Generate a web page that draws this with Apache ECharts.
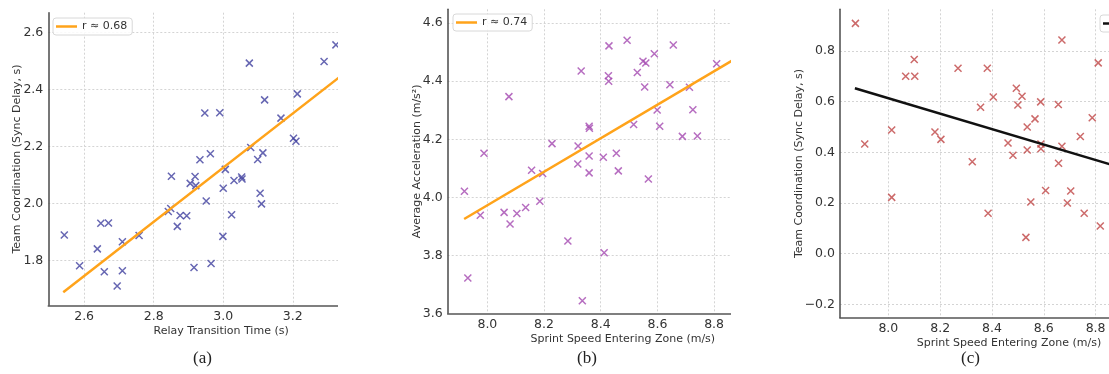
<!DOCTYPE html>
<html>
<head>
<meta charset="utf-8">
<script src="https://cdn.jsdelivr.net/npm/echarts@6/dist/echarts.min.js"></script>
<style>
body{margin:0;background:#fff;}
.panel{position:absolute;top:0;height:374px;overflow:hidden;}
</style>
</head>
<body>
<div id="pa" class="panel" style="left:0;width:338px"></div>
<div id="pb" class="panel" style="left:370px;width:361px"></div>
<div id="pc" class="panel" style="left:740px;width:369px"></div>
<script>
// (a) relay transition time vs sync delay
var aX = [2.543,2.587,2.638,2.648,2.670,2.658,2.695,2.710,2.710,2.758,2.842,2.849,2.851,2.868,2.876,2.895,2.905,2.919,2.921,2.916,2.933,2.947,2.951,2.963,2.965,2.990,3.000,2.999,3.006,3.024,3.031,3.053,3.054,3.075,3.079,3.099,3.106,3.110,3.114,3.119,3.166,3.202,3.209,3.213,3.290,3.324];
var aY = [1.889,1.781,1.840,1.930,1.931,1.760,1.710,1.865,1.763,1.887,1.971,1.982,2.095,1.919,1.957,1.956,2.070,2.094,2.062,1.775,2.153,2.317,2.008,2.174,1.789,2.318,2.053,1.884,2.119,1.960,2.080,2.092,2.085,2.492,2.196,2.154,2.035,1.998,2.177,2.363,2.299,2.228,2.218,2.384,2.498,2.556];
var aFit = [[2.540,1.688],[3.450,2.553]];

// (b) sprint speed vs average acceleration
var bX = [7.919,7.931,7.975,7.988,8.059,8.076,8.080,8.104,8.135,8.156,8.185,8.195,8.228,8.284,8.320,8.319,8.331,8.335,8.359,8.360,8.359,8.359,8.409,8.412,8.429,8.427,8.428,8.455,8.462,8.493,8.516,8.529,8.549,8.559,8.555,8.568,8.589,8.599,8.608,8.644,8.656,8.688,8.713,8.725,8.741,8.809];
var bY = [4.021,3.722,3.938,4.152,3.948,4.347,3.908,3.944,3.965,4.093,3.986,4.082,4.185,3.849,4.177,4.115,4.435,3.643,4.245,4.238,4.142,4.084,4.138,3.809,4.522,4.419,4.400,4.152,4.091,4.541,4.251,4.430,4.469,4.463,4.380,4.063,4.495,4.301,4.245,4.388,4.525,4.210,4.379,4.302,4.211,4.460];
var bFit = [[7.918,3.925],[9.050,4.579]];

// (c) sprint speed vs sync delay
var cX = [7.873,7.909,8.013,8.013,8.067,8.102,8.100,8.180,8.203,8.269,8.324,8.356,8.382,8.385,8.405,8.462,8.481,8.494,8.500,8.516,8.531,8.536,8.536,8.550,8.566,8.588,8.589,8.589,8.607,8.656,8.657,8.670,8.670,8.691,8.704,8.741,8.756,8.787,8.810,8.818];
var cY = [0.909,0.433,0.488,0.222,0.700,0.700,0.766,0.480,0.451,0.732,0.363,0.578,0.732,0.159,0.618,0.437,0.388,0.653,0.587,0.621,0.064,0.500,0.409,0.204,0.532,0.599,0.433,0.414,0.249,0.589,0.357,0.843,0.424,0.200,0.247,0.462,0.159,0.536,0.753,0.109];
var cFit = [[7.871,0.653],[9.050,0.293]];

var crossPath = 'path://M0,0L10,10M10,0L0,10';
var font = 'DejaVu Sans';

function zip(xs, ys) {
	var out = [];
	for (var i = 0; i < xs.length; i++) {
		out.push([xs[i], ys[i]]);
	}
	return out;
}

// only label multiples of 0.2, matplotlib style minus
function tickFmt(v) {
	var k = v / 0.2;
	if (Math.abs(k - Math.round(k)) > 1e-6) return '';
	return (Math.round(k) * 0.2).toFixed(1).replace('-', '\u2212');
}

function valueAxis(name, min, max, gap) {
	return {
		type : 'value',
		min : min,
		max : max,
		splitNumber : 6,
		name : name,
		nameLocation : 'middle',
		nameGap : gap,
		nameMoveOverlap : false,
		nameTextStyle : { fontFamily : font, fontSize : 11, color : '#333' },
		axisLine : { show : true, onZero : false, lineStyle : { color : '#555', width : 1.6 } },
		axisTick : { show : false },
		axisLabel : { fontFamily : font, fontSize : 12.5, color : '#333', margin : 5, formatter : tickFmt },
		splitLine : {
			show : true,
			showMinLine : false,
			showMaxLine : false,
			lineStyle : { color : '#d4d4d4', type : [2, 2], width : 1 }
		}
	};
}

function drawPanel(id, p) {
	var chart = echarts.init(document.getElementById(id), null, { renderer : 'canvas' });
	var grid = p.grid;
	grid.outerBoundsMode = 'none';
	grid.containLabel = false;
	var option = {
		animation : false,
		grid : grid,
		xAxis : valueAxis(p.xName, p.xMin, p.xMax, p.xGap),
		yAxis : valueAxis(p.yName, p.yMin, p.yMax, p.yGap),
		legend : {
			data : [p.fitName],
			left : p.legendPos[0],
			top : p.legendPos[1],
			padding : [3, 5, 3, 3],
			icon : 'rect',
			itemWidth : 21,
			itemHeight : 2.5,
			borderColor : '#d8d8d8',
			borderWidth : 1,
			borderRadius : 3,
			backgroundColor : 'rgba(255,255,255,0.85)',
			textStyle : { fontFamily : font, fontSize : 11, color : '#333', lineHeight : 11 }
		},
		graphic : [{
			type : 'text',
			left : p.tagX - 10,
			top : 350,
			style : { text : p.tag, font : '17px "Liberation Serif"', fill : '#222' }
		}],
		series : [{
			name : 'points',
			type : 'scatter',
			symbol : crossPath,
			symbolSize : 7,
			itemStyle : { color : 'rgba(0,0,0,0)', borderColor : p.color, borderWidth : 1.5 },
			data : zip(p.x, p.y)
		}, {
			name : p.fitName,
			type : 'line',
			symbol : 'none',
			clip : true,
			lineStyle : { color : p.fitColor, width : 2.5 },
			itemStyle : { color : p.fitColor },
			data : p.fit
		}]
	};
	chart.setOption(option);
}

drawPanel('pa', {
	grid : { left : 48.3, top : 12.7, width : 345.7, height : 292.6 },
	xName : 'Relay Transition Time (s)', xMin : 2.497, xMax : 3.491, xGap : 20,
	yName : 'Team Coordination (Sync Delay, s)', yMin : 1.642, yMax : 2.669, yGap : 26,
	x : aX, y : aY, fit : aFit, color : '#40409f',
	fitName : 'r \u2248 0.68', fitColor : '#ffa31a',
	legendPos : [53, 18], tag : '(a)', tagX : 203
});

drawPanel('pb', {
	grid : { left : 77.7, top : 9.3, width : 350.3, height : 304 },
	xName : 'Sprint Speed Entering Zone (m/s)', xMin : 7.860, xMax : 9.096, xGap : 20,
	yName : 'Average Acceleration (m/s\u00b2)', yMin : 3.6, yMax : 4.648, yGap : 25,
	x : bX, y : bY, fit : bFit, color : '#a448b0',
	fitName : 'r \u2248 0.74', fitColor : '#ffa31a',
	legendPos : [83, 14], tag : '(b)', tagX : 217
});

drawPanel('pc', {
	grid : { left : 100, top : 9.3, width : 338, height : 308.4 },
	xName : 'Sprint Speed Entering Zone (m/s)', xMin : 7.8135, xMax : 9.118, xGap : 20,
	yName : 'Team Coordination (Sync Delay, s)', yMin : -0.253, yMax : 0.9645, yGap : 35,
	x : cX, y : cY, fit : cFit, color : '#bf4545',
	fitName : 'r \u2248 \u22120.31', fitColor : '#111',
	legendPos : [360, 15], tag : '(c)', tagX : 231
});
</script>
</body>
</html>
